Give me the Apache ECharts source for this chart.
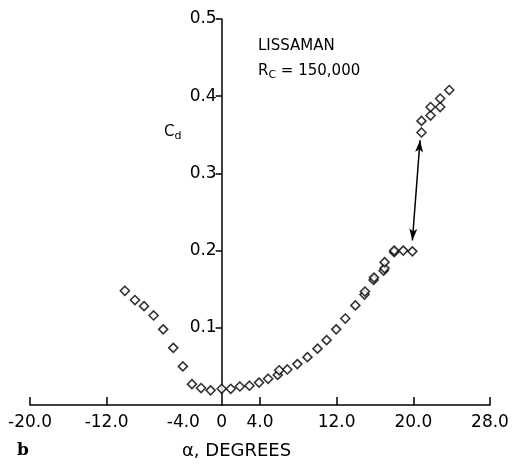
<!DOCTYPE html>
<html>
<head>
<meta charset="utf-8">
<script src="https://cdn.jsdelivr.net/npm/echarts@6/dist/echarts.min.js"></script>
<style>
  html, body { margin: 0; padding: 0; background: #fff; }
  #chart { width: 514px; height: 464px; }
</style>
</head>
<body>
<div id="chart"></div>
<script>
// angle of attack (deg) and drag coefficient
var alpha = [-10.1, -9.05, -8.1, -7.1, -6.1, -5.05, -4.05, -3.1, -2.15, -1.15, 0, 0.95, 1.9, 2.9, 3.9, 4.85,
  5.85, 6.0, 6.85, 7.9, 8.95, 10.0, 10.95, 11.95, 12.9, 13.95, 14.9, 14.95, 15.85, 15.9, 16.9, 17.0, 17.0,
  18.0, 18.0, 18.95, 19.9, 20.85, 20.85, 21.8, 21.8, 22.8, 22.8, 23.75]
var cd = [0.148, 0.136, 0.128, 0.116, 0.098, 0.074, 0.050, 0.027, 0.022, 0.019, 0.021, 0.021, 0.024, 0.025, 0.029, 0.034,
  0.039, 0.045, 0.046, 0.053, 0.062, 0.073, 0.084, 0.098, 0.112, 0.129, 0.143, 0.147, 0.162, 0.165, 0.174, 0.177, 0.185,
  0.198, 0.200, 0.200, 0.199, 0.353, 0.368, 0.375, 0.386, 0.386, 0.397, 0.408]
var xTicks = [-20, -12, 4, 12, 20, 28]
var xLabels = [-20, -12, -4, 0, 4, 12, 20, 28]
var yLabels = [0.1, 0.2, 0.3, 0.4, 0.5]
// jump arrow (hysteresis)
var arrowFrom = [19.9, 0.213]
var arrowTo = [20.7, 0.343]

var points = alpha.map(function (a, i) { return [a, cd[i]] })

var myChart = echarts.init(document.getElementById('chart'))
var font = 'DejaVu Sans'

var gridLeft = 30
var gridRight = 24
var xMin = -20
var xMax = 28
// y axis sits on alpha = 0, shift it in from the left edge of the grid
var plotW = 514 - gridLeft - gridRight
var yAxisShift = plotW * (0 - xMin) / (xMax - xMin)

var option = {
  animation: false,
  grid: { left: gridLeft, right: gridRight, top: 19, bottom: 59, containLabel: false, outerBoundsMode: 'none' },
  xAxis: {
    type: 'value',
    min: xMin,
    max: xMax,
    axisLine: { show: true, onZero: false, lineStyle: { color: '#000', width: 1.5 } },
    axisTick: { show: true, inside: true, length: 8, customValues: xTicks, lineStyle: { color: '#000', width: 1.5 } },
    axisLabel: {
      customValues: xLabels,
      margin: 9,
      color: '#000',
      fontFamily: font,
      fontSize: 17,
      formatter: function (v) { return v === 0 ? '0' : v.toFixed(1) }
    },
    splitLine: { show: false }
  },
  yAxis: {
    type: 'value',
    min: 0,
    max: 0.5,
    position: 'left',
    offset: -yAxisShift,
    axisLine: { show: true, onZero: false, lineStyle: { color: '#000', width: 1.5 } },
    axisTick: { show: true, length: 6, customValues: yLabels, lineStyle: { color: '#000', width: 1.5 } },
    axisLabel: {
      customValues: yLabels,
      margin: 5,
      color: '#000',
      fontFamily: font,
      fontSize: 17,
      formatter: function (v) { return v.toFixed(1) }
    },
    splitLine: { show: false }
  },
  graphic: [
    {
      type: 'text', left: 164, top: 125,
      style: {
        text: '{m|C}{s|d}',
        rich: {
          m: { fontFamily: font, fontSize: 15, fill: '#000' },
          s: { fontFamily: font, fontSize: 11, fill: '#000', padding: [8, 0, 0, 0] }
        }
      }
    },
    {
      type: 'text', left: 258, top: 39,
      style: { text: 'LISSAMAN', fontFamily: font, fontSize: 15, fill: '#000' }
    },
    {
      type: 'text', left: 258, top: 64,
      style: {
        text: '{m|R}{s|C}{m| = 150,000}',
        rich: {
          m: { fontFamily: font, fontSize: 15, fill: '#000' },
          s: { fontFamily: font, fontSize: 11, fill: '#000', padding: [8, 0, 0, 0] }
        }
      }
    },
    {
      type: 'text', left: 182, top: 442,
      style: { text: 'α, DEGREES', fontFamily: font, fontSize: 18, fill: '#000' }
    },
    {
      type: 'text', left: 17, top: 442,
      style: { text: 'b', fontFamily: 'DejaVu Serif', fontWeight: 'bold', fontSize: 17, fill: '#000' }
    }
  ],
  series: [{
    type: 'scatter',
    data: points,
    symbol: 'diamond',
    symbolSize: 9,
    itemStyle: { color: '#fff', borderColor: '#000', borderWidth: 1.6 },
    markLine: {
      silent: true,
      symbol: ['arrow', 'arrow'],
      symbolSize: [6, 12],
      lineStyle: { color: '#000', width: 1.5, type: 'solid' },
      label: { show: false },
      data: [[{ coord: arrowFrom }, { coord: arrowTo }]]
    }
  }]
}

myChart.setOption(option)
</script>
</body>
</html>
